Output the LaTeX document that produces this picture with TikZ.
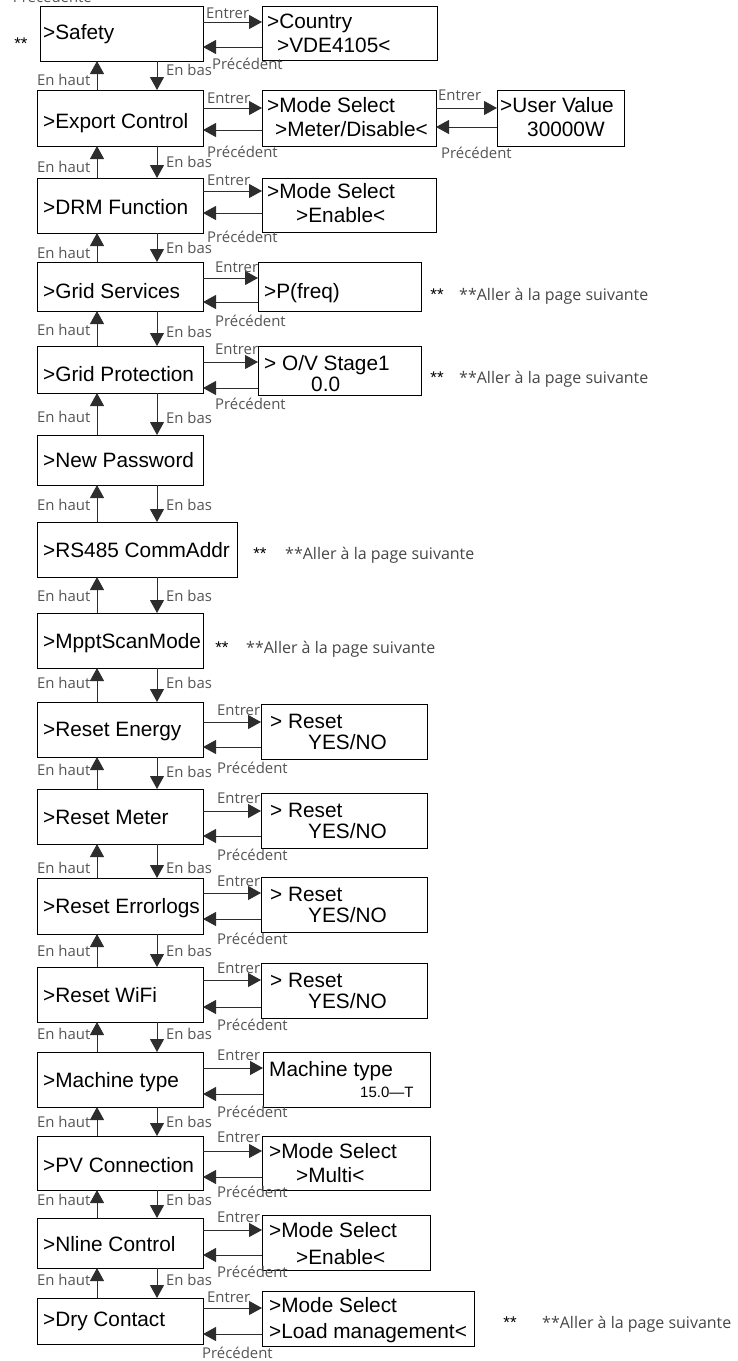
\documentclass[tikz,border=0pt]{standalone}
\usepackage{fontspec}
\setmainfont{Liberation Sans}
\newfontfamily\lblfont{Open Sans}
\usetikzlibrary{arrows.meta,fit}
\definecolor{lblgray}{RGB}{85,85,85}
\definecolor{notegray}{RGB}{70,70,70}
\definecolor{linegray}{RGB}{45,45,45}
\begin{document}
\begin{tikzpicture}[x=1pt,y=-1pt,
  box/.style={draw=black, line width=1pt, inner sep=0pt, outer sep=0pt},
  btxt/.style={anchor=base west, inner sep=0pt, font=\fontsize{20.8}{24}\selectfont},
  stxt/.style={anchor=base west, inner sep=0pt, font=\fontsize{15}{17}\selectfont},
  lbl/.style={anchor=base west, inner sep=0pt, text=lblgray, font=\lblfont\fontsize{14.9}{17}\selectfont},
  note/.style={anchor=base west, inner sep=0pt, text=notegray, font=\lblfont\fontsize{16}{19}\selectfont},
  star/.style={anchor=base, inner sep=0pt, font=\fontsize{17}{20}\selectfont},
  arr/.style={draw=linegray, line width=1pt, -{Triangle[length=13pt,width=14pt]}}]
\useasboundingbox (0,0) rectangle (738,1361);

% ---------- main column ----------
\node[box, fit={(40,6)(203,61)}] (safety) {};
\node[box, fit={(37,90)(203,146)}] (export) {};
\node[box, fit={(37,178)(203,233)}] (drm) {};
\node[box, fit={(37,262)(203,311)}] (gserv) {};
\node[box, fit={(37,346)(203,393)}] (gprot) {};
\node[box, fit={(37,435)(203,485)}] (npwd) {};
\node[box, fit={(37,522)(237,577)}] (rs485) {};
\node[box, fit={(37,613)(203,668)}] (mppt) {};
\node[box, fit={(37,702)(203,757)}] (renergy) {};
\node[box, fit={(37,789)(203,844)}] (rmeter) {};
\node[box, fit={(37,878)(203,934)}] (rerr) {};
\node[box, fit={(37,967)(203,1022)}] (rwifi) {};
\node[box, fit={(37,1052)(203,1107)}] (mtype) {};
\node[box, fit={(37,1136)(203,1190)}] (pv) {};
\node[box, fit={(37,1218)(203,1268)}] (nline) {};
\node[box, fit={(37,1298)(203,1344)}] (dry) {};

\node[btxt] (tsafety) at (43,39.5) {>Safety};
\node[btxt] (texport) at (43,128) {>Export Control};
\node[btxt] (tdrm) at (43,214) {>DRM Function};
\node[btxt] (tgserv) at (43,298) {>Grid Services};
\node[btxt] (tgprot) at (43,381) {>Grid Protection};
\node[btxt] (tnpwd) at (43,467) {>New Password};
\node[btxt] (trs485) at (43,557) {>RS485 CommAddr};
\node[btxt] (tmppt) at (43,648) {>MpptScanMode};
\node[btxt] (trenergy) at (43,736) {>Reset Energy};
\node[btxt] (trmeter) at (43,824) {>Reset Meter};
\node[btxt] (trerr) at (43,913) {>Reset Errorlogs};
\node[btxt] (trwifi) at (43,1002) {>Reset WiFi};
\node[btxt] (tmtype) at (43,1087) {>Machine type};
\node[btxt] (tpv) at (43,1172) {>PV Connection};
\node[btxt] (tnline) at (43,1251) {>Nline Control};
\node[btxt] (tdry) at (43,1326) {>Dry Contact};

% ---------- right column ----------
\node[box, fit={(262,6)(437,60)}] (country) {};
\node[btxt] (tcountry1) at (267,28) {>Country};
\node[btxt] (tcountry2) at (277,52) {>VDE4105<};

\node[box, fit={(262,90)(436,146)}] (emode) {};
\node[btxt] (temode1) at (267,112) {>Mode Select};
\node[btxt] (temode2) at (275,136) {>Meter/Disable<};

\node[box, fit={(497,90)(624,146)}] (uval) {};
\node[btxt] (tuval1) at (500,112) {>User Value};
\node[btxt] (tuval2) at (527,136) {30000W};

\node[box, fit={(262,178)(436,232)}] (dmode) {};
\node[btxt] (tdmode1) at (267,198) {>Mode Select};
\node[btxt] (tdmode2) at (296,222) {>Enable<};

\node[box, fit={(258,262)(421,311)}] (pfreq) {};
\node[btxt] (tpfreq) at (264,298) {>P(freq)};

\node[box, fit={(258,346)(421,395)}] (ovs) {};
\node[btxt] (tovs1) at (264,370) {> O/V Stage1};
\node[btxt] (tovs2) at (311,391) {0.0};

\node[box, fit={(261,704)(427,759)}] (rs1) {};
\node[btxt] (trs1a) at (270,728) {> Reset};
\node[btxt] (trs1b) at (308,749) {YES/NO};
\node[box, fit={(261,793)(427,848)}] (rs2) {};
\node[btxt] (trs2a) at (270,817) {> Reset};
\node[btxt] (trs2b) at (308,838) {YES/NO};
\node[box, fit={(261,877)(427,932)}] (rs3) {};
\node[btxt] (trs3a) at (270,901) {> Reset};
\node[btxt] (trs3b) at (308,922) {YES/NO};
\node[box, fit={(261,963)(427,1018)}] (rs4) {};
\node[btxt] (trs4a) at (270,987) {> Reset};
\node[btxt] (trs4b) at (308,1008) {YES/NO};

\node[box, fit={(263,1052)(430,1107)}] (mtr) {};
\node[btxt] (tmtr1) at (269,1076) {Machine type};
\node[stxt] (tmtr2) at (360,1097) {15.0—T};

\node[box, fit={(262,1136)(430,1190)}] (pvm) {};
\node[btxt] (tpvm1) at (269,1158) {>Mode Select};
\node[btxt] (tpvm2) at (296,1182) {>Multi<};

\node[box, fit={(262,1215)(430,1270)}] (nlm) {};
\node[btxt] (tnlm1) at (269,1237) {>Mode Select};
\node[btxt] (tnlm2) at (296,1264) {>Enable<};

\node[box, fit={(262,1291)(474,1346)}] (drym) {};
\node[btxt] (tdrym1) at (269,1312) {>Mode Select};
\node[btxt] (tdrym2) at (269,1338) {>Load management<};

% ---------- vertical arrows ----------
\coordinate (ux) at (97,0);
\coordinate (dx) at (157,0);
\foreach \a/\b in {safety/export, export/drm, drm/gserv, gserv/gprot, gprot/npwd,
  npwd/rs485, rs485/mppt, mppt/renergy, renergy/rmeter, rmeter/rerr, rerr/rwifi,
  rwifi/mtype, mtype/pv, pv/nline, nline/dry}{
  \draw[arr] (\b.north -| ux) -- (\a.south -| ux);
  \draw[arr] (\a.south -| dx) -- (\b.north -| dx);
}

% ---------- horizontal arrows ----------
\foreach \m/\r/\ya/\yb in {safety/country/22/47, export/emode/108/130, emode/uval/108/127,
  drm/dmode/191/213, gserv/pfreq/278/302, gprot/ovs/362/388, renergy/rs1/722/747,
  rmeter/rs2/811/836, rerr/rs3/893/919, rwifi/rs4/980/1007, mtype/mtr/1068/1094,
  pv/pvm/1151/1177, nline/nlm/1230/1255, dry/drym/1308/1334}{
  \draw[arr] (\m.east |- 0,\ya) -- (\r.west |- 0,\ya);
  \draw[arr] (\r.west |- 0,\yb) -- (\m.east |- 0,\yb);
}

% ---------- labels ----------
\foreach \n/\x/\y in {1/206/18, 2/207/103, 2b/438/100, 3/207/185, 4/215/272, 5/215/354,
  9/217/715, 10/217/803, 11/217/886, 12/217/973, 13/217/1060, 14/217/1142,
  15/217/1222, 16/207/1302}
  \node[lbl] (ent\n) at (\x,\y) {Entrer};
\foreach \n/\x/\y in {1/212/69, 2/207/157, 2b/441/158, 3/207/242, 4/215/326, 5/215/409,
  9/217/773, 10/217/860, 11/217/944, 12/217/1030, 13/217/1117, 14/217/1197,
  15/217/1277, 16/202/1358}
  \node[lbl] (pre\n) at (\x,\y) {Précédent};
\foreach \n/\y in {1/85, 2/172, 3/258, 4/335, 5/422, 6/510, 7/601, 8/688, 9/775,
  10/873, 11/956, 12/1039, 13/1127, 14/1205, 15/1285}
  \node[lbl] (haut\n) at (37,\y) {En haut};
\foreach \n/\y in {1/75, 2/167, 3/253, 4/337, 5/423, 6/510, 7/601, 8/688, 9/777,
  10/873, 11/956, 12/1039, 13/1127, 14/1205, 15/1285}
  \node[lbl] (bas\n) at (166,\y) {En bas};

\node[lbl, anchor=base east] (ptop) at (92,2) {Précédente};

% ---------- notes ----------
\node[star] (s1) at (21,49) {**};
\foreach \n/\sx/\tx/\y in {4/437/459/300, 5/437/459/383, 7/260/285/559, 8/222/246/653, 16/510/542/1328}{
  \node[star] (s\n) at (\sx,\y) {**};
  \node[note] (nt\n) at (\tx,\y) {**Aller à la page suivante};
}
\end{tikzpicture}
\end{document}
